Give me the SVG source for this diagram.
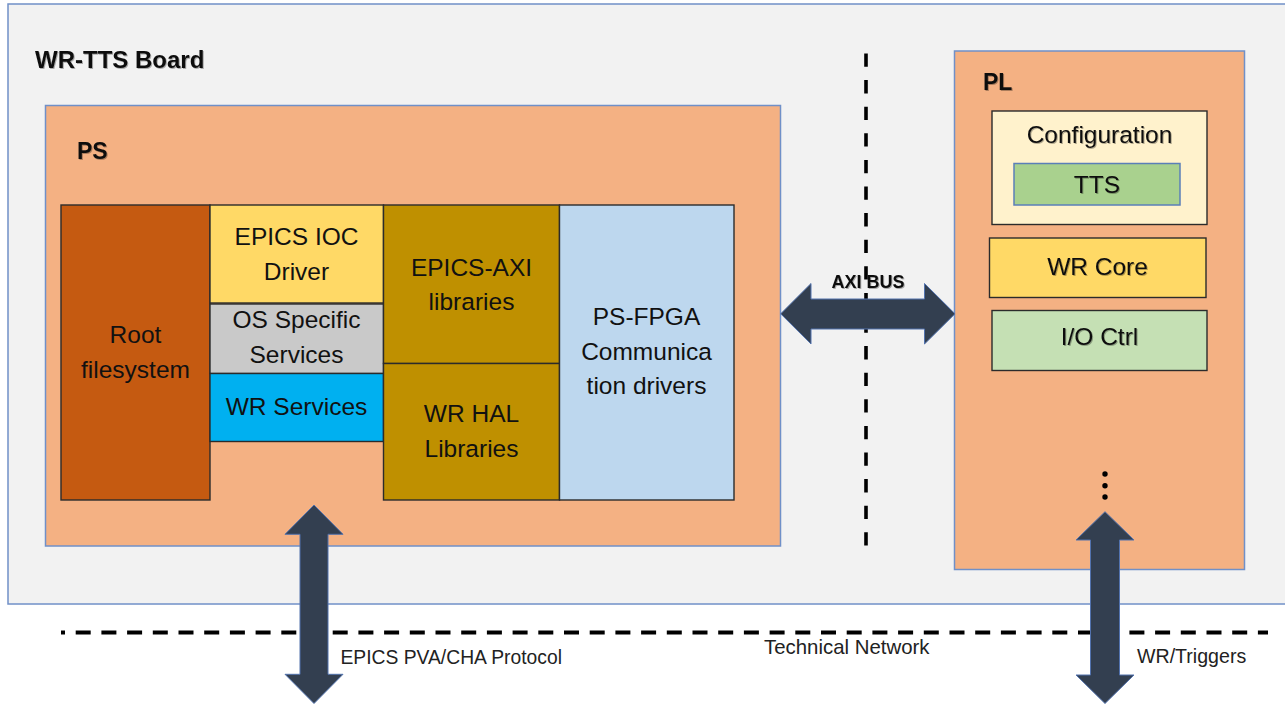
<svg xmlns="http://www.w3.org/2000/svg" width="1285" height="704" viewBox="0 0 1285 704">
  <defs>
    <style>
      .frame { stroke: #7090c8; stroke-width: 1.5; }
      .blk { stroke: #2b2b2b; stroke-width: 1.4; }
      .lbl { font-family: "Liberation Sans", Arial, sans-serif; font-size: 24.5px; fill: #111; text-anchor: middle; }
      .hdr { font-family: "Liberation Sans", Arial, sans-serif; font-weight: bold; fill: #111; }
      .note { font-family: "Liberation Sans", Arial, sans-serif; fill: #222; }
      .bus { fill: #333f50; stroke: #5272ad; stroke-width: 1; }
      .dash { stroke: #000; fill: none; }
      .soft { filter: url(#txtShadow); }
    </style>
    <filter id="txtShadow" x="-10%" y="-30%" width="120%" height="160%">
      <feDropShadow dx="1" dy="1" stdDeviation="0.7" flood-color="#000" flood-opacity="0.3"/>
    </filter>
  </defs>

  <rect width="1285" height="704" fill="#ffffff"/>

  <!-- board outline -->
  <g id="board">
    <rect x="8" y="4" width="1290" height="600" fill="#f2f2f2" class="frame"/>
    <text x="35" y="68" class="hdr soft" font-size="24">WR-TTS Board</text>
  </g>

  <!-- processing system -->
  <g id="ps">
    <rect x="45.5" y="105.5" width="735" height="440.5" fill="#f4b183" class="frame"/>
    <text x="77" y="159" class="hdr soft" font-size="23">PS</text>
  </g>

  <g id="root-fs">
    <rect x="61" y="205" width="149" height="295" fill="#c55a11" class="blk"/>
    <text x="135.5" y="343" class="lbl">Root</text>
    <text x="135.5" y="378" class="lbl">filesystem</text>
  </g>

  <g id="epics-ioc">
    <rect x="210" y="205" width="173.5" height="98" fill="#ffd966" class="blk"/>
    <text x="296.5" y="245" class="lbl">EPICS IOC</text>
    <text x="296.5" y="280" class="lbl">Driver</text>
  </g>

  <g id="os-services">
    <rect x="210" y="304" width="173.5" height="69.5" fill="#c9c9c9" class="blk"/>
    <text x="296.5" y="328" class="lbl">OS Specific</text>
    <text x="296.5" y="363" class="lbl">Services</text>
  </g>

  <g id="wr-services">
    <rect x="210" y="373.5" width="173.5" height="68" fill="#00b0f0" class="blk"/>
    <text x="296.5" y="415" class="lbl">WR Services</text>
  </g>

  <g id="epics-axi">
    <rect x="383.5" y="205" width="176" height="158.5" fill="#bf9000" class="blk"/>
    <text x="471.5" y="276" class="lbl">EPICS-AXI</text>
    <text x="471.5" y="310" class="lbl">libraries</text>
  </g>

  <g id="wr-hal">
    <rect x="383.5" y="363.5" width="176" height="136.5" fill="#bf9000" class="blk"/>
    <text x="471.5" y="422" class="lbl">WR HAL</text>
    <text x="471.5" y="457" class="lbl">Libraries</text>
  </g>

  <g id="ps-fpga">
    <rect x="559.5" y="205" width="174.5" height="295" fill="#bdd7ee" class="blk"/>
    <text x="646.5" y="325" class="lbl">PS-FPGA</text>
    <text x="646.5" y="360" class="lbl">Communica</text>
    <text x="646.5" y="394" class="lbl">tion drivers</text>
  </g>

  <!-- programmable logic -->
  <g id="pl">
    <rect x="954.5" y="51" width="290" height="518.5" fill="#f4b183" class="frame"/>
    <text x="983" y="90" class="hdr soft" font-size="23">PL</text>
    <circle cx="1105" cy="474" r="2.7" fill="#000"/>
    <circle cx="1105" cy="485.7" r="2.7" fill="#000"/>
    <circle cx="1105" cy="497" r="2.7" fill="#000"/>
  </g>

  <g id="configuration">
    <rect x="992" y="111" width="215" height="113.5" fill="#fff2cc" class="blk"/>
    <text x="1099.5" y="143" class="lbl soft">Configuration</text>
  </g>

  <g id="tts">
    <rect x="1014" y="163.5" width="166" height="41.5" fill="#a9d18e" stroke="#5b7fb8" stroke-width="1.5"/>
    <text x="1097" y="193" class="lbl soft">TTS</text>
  </g>

  <g id="wr-core">
    <rect x="989.5" y="238" width="216.5" height="59.5" fill="#ffd966" class="blk"/>
    <text x="1097.5" y="275" class="lbl soft">WR Core</text>
  </g>

  <g id="io-ctrl">
    <rect x="992" y="310.5" width="215" height="60" fill="#c5e0b4" class="blk"/>
    <text x="1099.5" y="345" class="lbl soft">I/O Ctrl</text>
  </g>

  <!-- connectors: boundaries and buses -->
  <g id="connectors">
    <line x1="866" y1="53.5" x2="866" y2="555" class="dash" stroke-width="3.6" stroke-dasharray="13.3 13.3"/>
    <line x1="61" y1="632.5" x2="1268" y2="632.5" class="dash" stroke-width="3.8" stroke-dasharray="15 10.7" stroke-dashoffset="11"/>

    <text x="868" y="287.5" class="hdr soft" font-size="18" text-anchor="middle">AXI BUS</text>

    <!-- AXI bus between PS and PL -->
    <path class="bus" d="M780.7,313.8 L811,283.5 L811,299 L924.5,299 L924.5,283.5 L955,313.8 L924.5,344 L924.5,329 L811,329 L811,344 Z"/>

    <!-- EPICS network link -->
    <path class="bus" d="M314,505 L343,534.3 L328,534.3 L328,674.3 L343,674.3 L314,703.5 L285,674.3 L300,674.3 L300,534.3 L285,534.3 Z"/>

    <!-- WR / trigger link -->
    <path class="bus" d="M1105,511.7 L1134,540 L1119.5,540 L1119.5,675 L1134,675 L1105,703.5 L1076,675 L1090.5,675 L1090.5,540 L1076,540 Z"/>

    <text x="340.5" y="664" class="note" font-size="19.3">EPICS PVA/CHA Protocol</text>
    <text x="764" y="654" class="note" font-size="20.4">Technical Network</text>
    <text x="1137" y="663" class="note" font-size="19.6">WR/Triggers</text>
  </g>
</svg>
